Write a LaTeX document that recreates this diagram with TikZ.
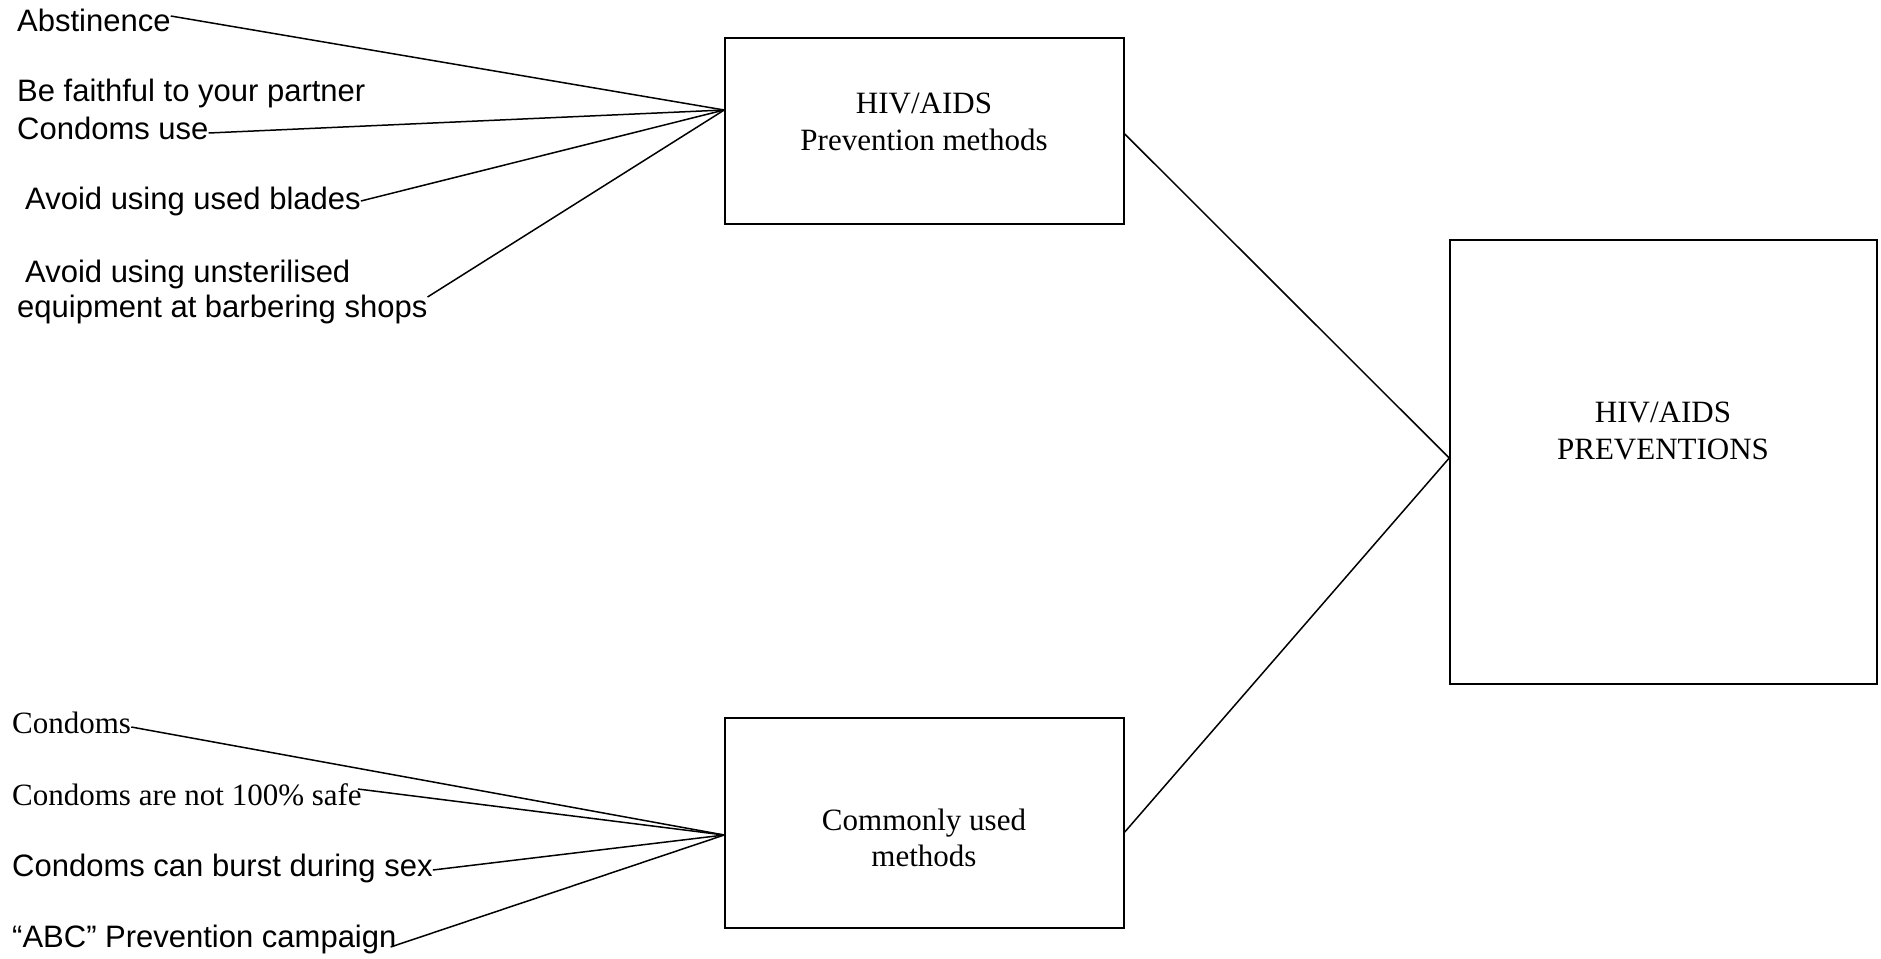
\documentclass[tikz,border=0pt]{standalone}
\usepackage{fontspec}
\setmainfont{Liberation Serif}
\newfontfamily\arialfont{Liberation Sans}
\usetikzlibrary{calc}
\begin{document}
\begin{tikzpicture}[x=1pt,y=-1pt,
  sanslbl/.style={anchor=west,inner sep=0pt,font=\arialfont\fontsize{31}{36}\selectfont},
  seriflbl/.style={anchor=west,inner sep=0pt,font=\fontsize{31}{36}\selectfont},
  boxshape/.style={draw,line width=1.5pt,rectangle,inner sep=0pt},
  boxtext/.style={align=center,inner sep=0pt,font=\fontsize{31}{36.5}\selectfont},
  conn/.style={line width=1.5pt}]
\useasboundingbox (0,0) rectangle (1881,958);
% boxes
\node[boxshape,minimum width=399pt,minimum height=186pt] (pm) at (924.5,131) {};
\node[boxtext] (pmt) at (924,122) {HIV/AIDS\\Prevention methods};
\node[boxshape,minimum width=399pt,minimum height=210pt] (cm) at (924.5,823) {};
\node[boxtext] (cmt) at (924,838) {Commonly used\\methods};
\node[boxshape,minimum width=427pt,minimum height=444pt] (hp) at (1663.5,462) {};
\node[boxtext] (hpt) at (1663,431) {HIV/AIDS\\PREVENTIONS};
% left labels (top)
\node[sanslbl] (abst) at (17,20) {Abstinence};
\node[sanslbl] (faith) at (17,93) {Be faithful to your partner};
\node[sanslbl] (cuse) at (17,128) {Condoms use};
\node[sanslbl] (blades) at (25,201) {Avoid using used blades};
\node[sanslbl] (unst) at (25,274) {Avoid using unsterilised};
\node[sanslbl] (barb) at (17,309) {equipment at barbering shops};
% left labels (bottom)
\node[seriflbl] (cond) at (12,723) {Condoms};
\node[seriflbl] (safe) at (12,795) {Condoms are not 100\% safe};
\node[sanslbl] (burst) at (12,868) {Condoms can burst during sex};
\node[sanslbl] (abc) at (12,939) {“ABC” Prevention campaign};
% convergence points
\coordinate (ptop) at ($(pm.west)+(0,-21)$);
\coordinate (pbot) at ($(cm.west)+(0,12)$);
% connectors top
\draw[conn] ($(abst.east)+(0,-4)$) -- (ptop);
\draw[conn] ($(cuse.east)+(0,5)$) -- (ptop);
\draw[conn] ($(blades.east)+(0,0)$) -- (ptop);
\draw[conn] ($(barb.east)+(0,-12)$) -- (ptop);
% connectors bottom
\draw[conn] ($(cond.east)+(0,4)$) -- (pbot);
\draw[conn] ($(safe.east)+(-4,-6)$) -- (pbot);
\draw[conn] ($(burst.east)+(0,2)$) -- (pbot);
\draw[conn] ($(abc.east)+(-6,8)$) -- (pbot);
% connectors right
\draw[conn] ($(pm.east)+(0,3)$) -- ($(hp.west)+(0,-4)$);
\draw[conn] ($(cm.east)+(0,9)$) -- ($(hp.west)+(0,-4)$);
\end{tikzpicture}
\end{document}
